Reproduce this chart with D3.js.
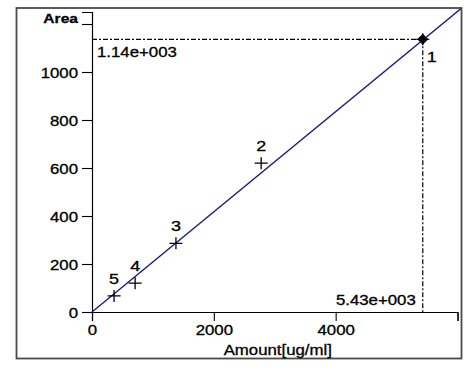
<!DOCTYPE html>
<meta charset="utf-8">
<style>
    body { margin: 0; background: #fff; }
    svg { display: block; font-family: "Liberation Sans", Arial, sans-serif; }
    svg text { stroke: #000; stroke-width: 0.3px; }
</style>
<svg width="474" height="371"></svg>
<script src="https://cdn.jsdelivr.net/npm/d3@7"></script>
<script>

    // calibration points
    var pointIds = ["1", "2", "3", "4", "5"];
    var amounts = [5430, 2777, 1378, 708, 362];
    var areas = [1136, 620, 286, 120, 67];
    var slope = 0.2087;   // fitted line through origin

    var xMajor = [0, 2000, 4000, 6000];
    var xLabels = ["0", "2000", "4000", ""];
    var yMajor = [0, 200, 400, 600, 800, 1000, 1200];
    var yLabels = ["0", "200", "400", "600", "800", "1000", ""];

    var readX = "5.43e+003", readY = "1.14e+003";

    var svg = d3.select("svg");
    var stretch = 1.2;   // text in the original is drawn wide

    var x = d3.scaleLinear().domain([0, 6000]).range([92, 457.5]);
    var y = d3.scaleLinear().domain([0, 1250]).range([312, 12]);

    // outer frame
    svg.append("rect")
        .attr("x", 16.5).attr("y", 8)
        .attr("width", 445).attr("height", 350.5)
        .attr("fill", "none")
        .attr("stroke", "#4a4a4a")
        .attr("stroke-width", 1.8);

    function wideText(sel) {
        sel.attr("transform", function () {
            var t = d3.select(this);
            var tx = +t.attr("x") || 0, ty = +t.attr("y") || 0;
            t.attr("x", 0).attr("y", 0);
            return "translate(" + tx + "," + ty + ") scale(" + stretch + ",1)";
        });
    }

    // x axis: minor ticks then major
    var gx = svg.append("g").attr("transform", "translate(0," + y(0) + ")");
    gx.call(d3.axisBottom(x).tickValues(d3.range(0, 6001, 500)).tickSize(5).tickFormat(""));
    gx.call(d3.axisBottom(x).tickValues(xMajor).tickSize(9).tickPadding(4)
        .tickFormat(function (d, i) { return xLabels[i]; }));

    var gy = svg.append("g").attr("transform", "translate(" + x(0) + ",0)");
    gy.call(d3.axisLeft(y).tickValues(d3.range(0, 1251, 50)).tickSize(5).tickFormat(""));
    gy.call(d3.axisLeft(y).tickValues(yMajor).tickSize(10).tickPadding(4)
        .tickFormat(function (d, i) { return yLabels[i]; }));

    svg.selectAll(".domain").attr("stroke", "#000").attr("stroke-width", 1.2);
    svg.selectAll(".tick line").attr("stroke", "#000").attr("stroke-width", 1.1);
    svg.selectAll(".tick text")
        .attr("fill", "#000")
        .attr("font-size", 14)
        .attr("font-family", null);
    gx.selectAll(".tick text").attr("transform", "scale(" + stretch + ",1)");
    gy.selectAll(".tick text").attr("x", -14 / stretch).attr("dy", "0.36em")
        .attr("transform", "scale(" + stretch + ",1)");

    // axis titles
    svg.append("text")
        .attr("x", 78).attr("y", 23)
        .attr("text-anchor", "end")
        .attr("font-size", 13).attr("font-weight", "bold")
        .text("Area")
        .call(wideText);

    svg.append("text")
        .attr("x", (x(0) + x(6000)) / 2 + 3).attr("y", 355)
        .attr("text-anchor", "middle")
        .attr("font-size", 14)
        .text("Amount[ug/ml]")
        .call(wideText);

    // clip for plot contents
    svg.append("clipPath").attr("id", "plot")
        .append("rect").attr("x", 17).attr("y", 8.5).attr("width", 444).attr("height", 350);

    var plot = svg.append("g").attr("clip-path", "url(#plot)");

    // regression line
    var xEnd = 6500;
    plot.append("line")
        .attr("x1", x(0)).attr("y1", y(0))
        .attr("x2", x(xEnd)).attr("y2", y(slope * xEnd))
        .attr("stroke", "#1a1a80")
        .attr("stroke-width", 1.4);

    // read-off lines for point 1
    plot.append("line")
        .attr("x1", x(0)).attr("y1", y(areas[0]))
        .attr("x2", x(amounts[0])).attr("y2", y(areas[0]))
        .attr("stroke", "#000").attr("stroke-width", 1.2).attr("stroke-dasharray", "5,2,2,2");
    plot.append("line")
        .attr("x1", x(amounts[0])).attr("y1", y(areas[0]))
        .attr("x2", x(amounts[0])).attr("y2", y(0))
        .attr("stroke", "#000").attr("stroke-width", 1.2).attr("stroke-dasharray", "5,2,2,2");

    svg.append("text")
        .attr("x", x(0) + 5).attr("y", y(areas[0]) + 18)
        .attr("font-size", 14)
        .text(readY)
        .call(wideText);
    svg.append("text")
        .attr("x", x(amounts[0]) - 7).attr("y", y(0) - 7)
        .attr("text-anchor", "end")
        .attr("font-size", 14)
        .text(readX)
        .call(wideText);

    // markers
    var pts = pointIds.map(function (id, i) {
        return { id: id, amount: amounts[i], area: areas[i] };
    });

    var m = plot.selectAll(".pt").data(pts).enter().append("g")
        .attr("class", "pt")
        .attr("transform", function (d) { return "translate(" + x(d.amount) + "," + y(d.area) + ")"; });
    m.append("path")
        .attr("d", "M-6.5,0H6.5M0,-6V6")
        .attr("stroke", "#000").attr("stroke-width", 1.3);

    plot.append("path")
        .attr("transform", "translate(" + x(amounts[0]) + "," + y(areas[0]) + ")")
        .attr("d", "M0,-5.5L5.5,0L0,5.5L-5.5,0Z")
        .attr("fill", "#000");

    svg.selectAll(".lab").data(pts).enter().append("text")
        .attr("class", "lab")
        .attr("x", function (d, i) { return i == 0 ? x(d.amount) + 4 : x(d.amount); })
        .attr("y", function (d, i) { return i == 0 ? y(d.area) + 23 : y(d.area) - 12; })
        .attr("text-anchor", function (d, i) { return i == 0 ? "start" : "middle"; })
        .attr("font-size", 15)
        .text(function (d) { return d.id; })
        .call(wideText);

</script>
